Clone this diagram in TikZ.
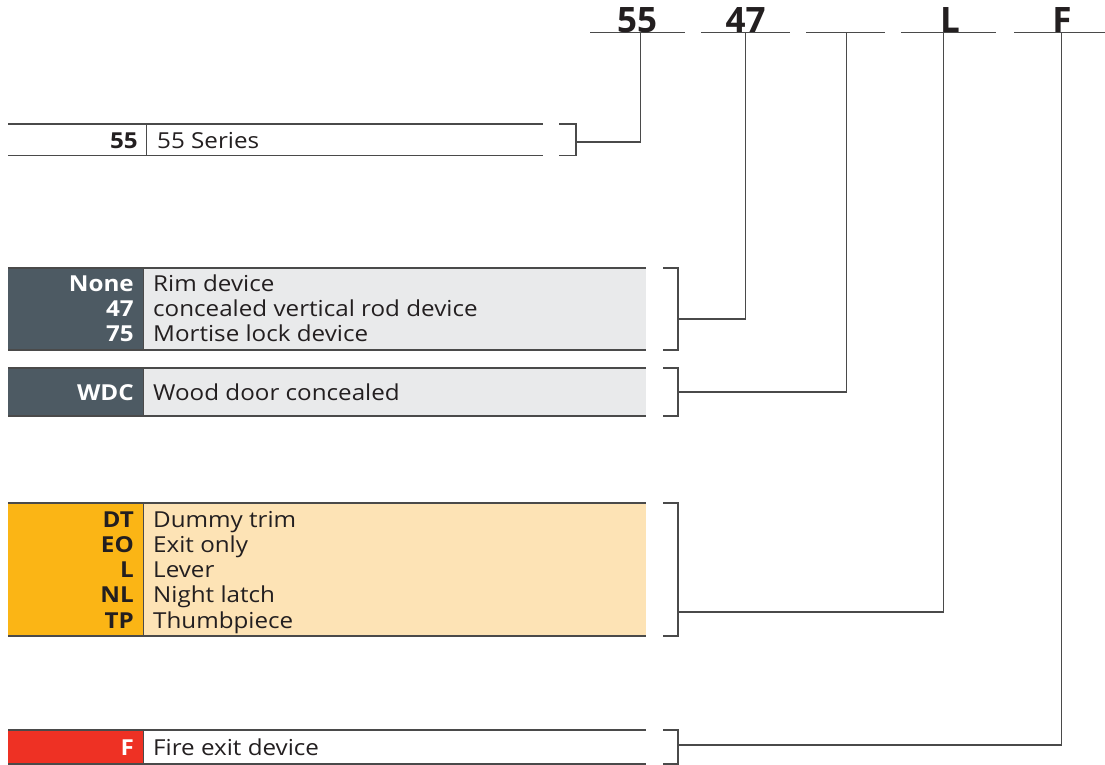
\documentclass[tikz,border=0pt]{standalone}
\usepackage{fontspec}
\setmainfont{Open Sans}[FakeStretch=1.1]
\newfontfamily\hdrfont{Open Sans}
\definecolor{ink}{HTML}{231F20}
\definecolor{rulegray}{HTML}{4A4A4A}
\definecolor{slate}{HTML}{4D5A63}
\definecolor{lightgray}{HTML}{E9EAEB}
\definecolor{amber}{HTML}{FBB515}
\definecolor{peach}{HTML}{FDE3B5}
\definecolor{firered}{HTML}{EE3124}
\begin{document}
\begin{tikzpicture}[x=1pt,y=-1pt,
  code/.style={anchor=base east, inner sep=0pt, font=\fontsize{22}{25}\selectfont\bfseries},
  desc/.style={anchor=base west, inner sep=0pt, font=\fontsize{22}{25}\selectfont, text=ink},
  hdr/.style={anchor=base, inner sep=0pt, font=\hdrfont\fontsize{35}{40}\selectfont\bfseries, text=ink},
  border/.style={draw=rulegray, line width=1.4pt},
  divider/.style={draw=rulegray, line width=1pt},
  link/.style={draw=rulegray, line width=1.2pt},
]
\useasboundingbox (0,0) rectangle (1105,765);

% ---------- header ----------
\draw[link] (590,32.5) -- (685,32.5);
\draw[link] (701,32.5) -- (790,32.5);
\draw[link] (806,32.5) -- (885,32.5);
\draw[link] (901,32.5) -- (996,32.5);
\draw[link] (1014,32.5) -- (1105,32.5);
\node[hdr] (h1) at (637,33) {55};
\node[hdr] (h2) at (745.5,33) {47};
\node[hdr] (h4) at (950,33) {L};
\node[hdr] (h5) at (1062,33) {F};
\coordinate (t1) at (640.7,32.5);
\coordinate (t2) at (745.7,32.5);
\coordinate (t3) at (846.7,32.5);
\coordinate (t4) at (943.3,32.5);
\coordinate (t5) at (1061.7,32.5);

% ---------- row 1 : 55 series ----------
\draw[border] (8,124) -- (543,124);
\draw[border] (8,155.5) -- (543,155.5);
\draw[divider] (146,124) -- (146,155.5);
\node[code, text=ink] (r1c) at (138,148) {55};
\node[desc] (r1d) at (157,148) {55 Series};
\draw[link] (559,124) -- (576,124) -- (576,155.5) -- (559,155.5);
\coordinate (b1) at (576,142);
\draw[link] (b1) -| (t1);

% ---------- box A ----------
\fill[slate] (8,268) rectangle (143,350);
\fill[lightgray] (143,268) rectangle (646,350);
\draw[border] (8,268) -- (646,268);
\draw[border] (8,350) -- (646,350);
\draw[divider] (143,268) -- (143,350);
\node[code, text=white] (a1c) at (134,291) {None};
\node[code, text=white] (a2c) at (134,316.5) {47};
\node[code, text=white] (a3c) at (134,341.5) {75};
\node[desc] (a1d) at (153,291) {Rim device};
\node[desc] (a2d) at (153,316.5) {concealed vertical rod device};
\node[desc] (a3d) at (153,341.5) {Mortise lock device};
\draw[link] (663,268) -- (678,268) -- (678,350) -- (663,350);
\coordinate (b2) at (678,319);
\draw[link] (b2) -| (t2);

% ---------- box B ----------
\fill[slate] (8,368) rectangle (143,416);
\fill[lightgray] (143,368) rectangle (646,416);
\draw[border] (8,368) -- (646,368);
\draw[border] (8,416) -- (646,416);
\draw[divider] (143,368) -- (143,416);
\node[code, text=white] (b1c) at (134,400.5) {WDC};
\node[desc] (b1d) at (153,400.5) {Wood door concealed};
\draw[link] (663,368) -- (678,368) -- (678,416) -- (663,416);
\coordinate (b3) at (678,392);
\draw[link] (b3) -| (t3);

% ---------- box C ----------
\fill[amber] (8,503) rectangle (143,636);
\fill[peach] (143,503) rectangle (646,636);
\draw[border] (8,503) -- (646,503);
\draw[border] (8,636) -- (646,636);
\draw[divider] (143,503) -- (143,636);
\node[code, text=ink] (c1c) at (134,527) {DT};
\node[code, text=ink] (c2c) at (134,552.5) {EO};
\node[code, text=ink] (c3c) at (134,577.5) {L};
\node[code, text=ink] (c4c) at (134,602.5) {NL};
\node[code, text=ink] (c5c) at (134,628) {TP};
\node[desc] (c1d) at (153,527) {Dummy trim};
\node[desc] (c2d) at (153,552.5) {Exit only};
\node[desc] (c3d) at (153,577.5) {Lever};
\node[desc] (c4d) at (153,602.5) {Night latch};
\node[desc] (c5d) at (153,628) {Thumbpiece};
\draw[link] (663,503) -- (678,503) -- (678,636) -- (663,636);
\coordinate (b4) at (678,612);
\draw[link] (b4) -| (t4);

% ---------- box D ----------
\fill[firered] (8,730) rectangle (143,764);
\draw[border] (8,730) -- (646,730);
\draw[border] (8,764) -- (646,764);
\draw[divider] (143,730) -- (143,764);
\node[code, text=white] (d1c) at (134,755.5) {F};
\node[desc] (d1d) at (153,755.5) {Fire exit device};
\draw[link] (663,730) -- (678,730) -- (678,764) -- (663,764);
\coordinate (b5) at (678,745);
\draw[link] (b5) -| (t5);
\end{tikzpicture}
\end{document}
